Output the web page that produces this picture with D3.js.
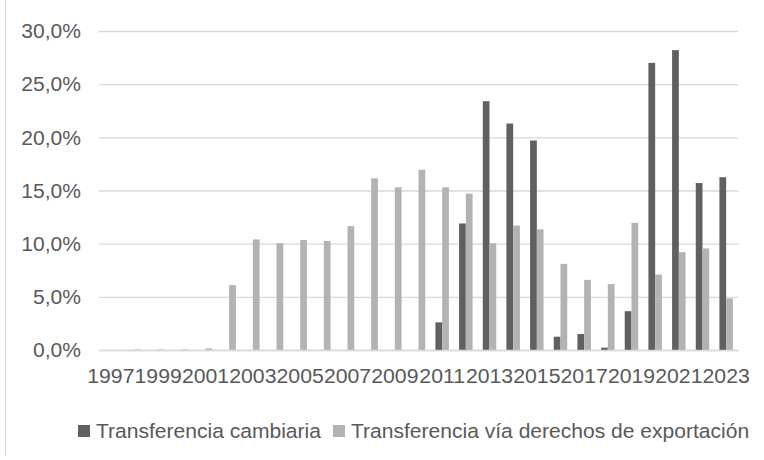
<!DOCTYPE html>
<html><head><meta charset="utf-8">
<script src="https://cdn.jsdelivr.net/npm/d3@7"></script>
<style>body{margin:0;background:#fff}svg{display:block}text{font-family:"Liberation Sans",Arial,sans-serif}</style>
</head><body><svg id="c" width="764" height="460"></svg>
<script>
const years = ["1997","1998","1999","2000","2001","2002","2003","2004","2005","2006","2007","2008","2009","2010","2011","2012","2013","2014","2015","2016","2017","2018","2019","2020","2021","2022","2023"];
const cambiaria = [0,0,0,0,0,0,0,0,0,0,0,0,0,0,2.6,11.9,23.4,21.3,19.7,1.25,1.5,0.22,3.65,27.0,28.2,15.7,16.25];
const derechos = [0,0.05,0.05,0.05,0.15,6.1,10.4,10.05,10.35,10.25,11.65,16.15,15.3,16.95,15.3,14.7,10.05,11.7,11.35,8.1,6.6,6.2,11.95,7.1,9.2,9.55,4.85];
const yTicks = [0,5,10,15,20,25,30];
const seriesNames = ["Transferencia cambiaria","Transferencia vía derechos de exportación"];
const colors = ["#606060","#b3b3b3"];

const svg = d3.select("#c");
const mL = 99, mR = 738, mT = 31, mB = 350;
const SX = 1.08, FS = "19.5px";
const y = d3.scaleLinear().domain([0,30]).range([mB, mT]);
const x0 = d3.scaleBand().domain(years).range([mL, mR]).paddingInner(0.43).paddingOuter(0.215);
const x1 = d3.scaleBand().domain([0,1]).range([0, x0.bandwidth()]);
const fmt = v => d3.format(".1f")(v).replace(".", ",") + "%";

// frame left edge
svg.append("line").attr("x1",5.5).attr("x2",5.5).attr("y1",0).attr("y2",456).attr("stroke","#d9d9d9").attr("stroke-width",1);

// grid
const yAxis = d3.axisLeft(y).tickValues(yTicks).tickFormat(fmt).tickSize(-(mR-mL)).tickPadding(18);
const gy = svg.append("g").attr("transform",`translate(${mL},0)`).call(yAxis);
gy.select(".domain").remove();
gy.selectAll(".tick line").attr("stroke","#d9d9d9").attr("stroke-width",1.3);
gy.selectAll(".tick text").attr("fill","#595959").attr("font-size",FS).attr("dy","0.35em")
  .attr("x",-18/SX).attr("transform",`scale(${SX},1)`);

// bars
const data = years.map((yr,i)=>({yr, vals:[cambiaria[i], derechos[i]]}));
const g = svg.append("g").selectAll("g").data(data).join("g").attr("transform",d=>`translate(${x0(d.yr)},0)`);
g.selectAll("rect").data(d=>d.vals.map((v,k)=>({v,k}))).join("rect")
  .attr("x",d=>x1(d.k)).attr("width",x1.bandwidth())
  .attr("y",d=>y(d.v)).attr("height",d=>mB - y(d.v))
  .attr("fill",d=>colors[d.k]);

// x axis
const xAxis = d3.axisBottom(x0).tickValues(years.filter((d,i)=>i%2===0)).tickSize(0).tickPadding(19);
const gx = svg.append("g").attr("transform",`translate(0,${mB})`).call(xAxis);
gx.select(".domain").attr("stroke","#d9d9d9").attr("stroke-width",1.5);
gx.selectAll(".tick text").attr("fill","#595959").attr("font-size",FS).attr("transform",`scale(1.09,1)`);

// legend
const lg = svg.append("g").attr("transform","translate(78,431)");
let lx = 0;
seriesNames.forEach((n,k)=>{
  lg.append("rect").attr("x",lx).attr("y",-6).attr("width",12).attr("height",12).attr("fill",colors[k]);
  const t = lg.append("text").attr("transform",`translate(${lx+18},0) scale(${SX},1)`).attr("dy","0.35em")
    .attr("fill","#595959").attr("font-size",FS).text(n);
  lx += 18 + t.node().getComputedTextLength()*SX + 12;
});
</script></body></html>
